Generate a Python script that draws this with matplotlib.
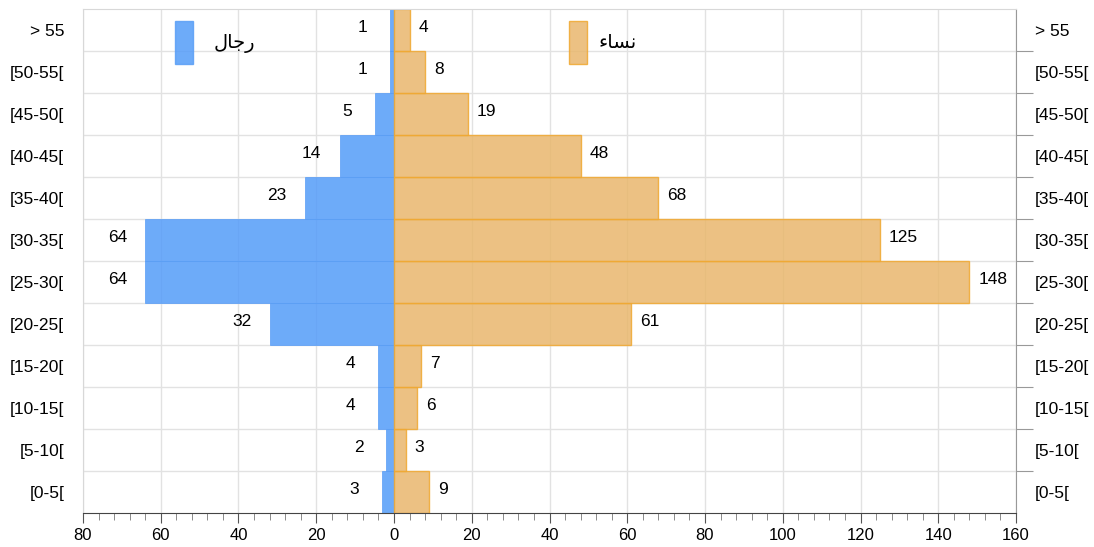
import matplotlib.pyplot as plt
from matplotlib.patches import Patch
from matplotlib.ticker import MultipleLocator, FixedLocator, FuncFormatter

plt.rcParams['font.family'] = ['Liberation Sans', 'DejaVu Sans']

# age groups, bottom to top
groups = ['[0-5[', '[5-10[', '[10-15[', '[15-20[', '[20-25[', '[25-30[',
          '[30-35[', '[35-40[', '[40-45[', '[45-50[', '[50-55[', '> 55']
men = [3, 2, 4, 4, 32, 64, 64, 23, 14, 5, 1, 1]
women = [9, 3, 6, 7, 61, 148, 125, 68, 48, 19, 8, 4]

# legend labels, pre-shaped arabic (visual order) : "رجال" and "نساء"
label_men = '\uFEDD\uFE8E\uFE9F\uFEAD'
label_women = '\uFE80\uFE8E\uFEB4\uFEE7'

blue = '#549cf9'
orange = '#e9b76d'

fig = plt.figure(figsize=(10.94, 5.47), dpi=100)
ax = fig.add_axes([83 / 1094, 34 / 547, 933 / 1094, 504 / 547])

y = list(range(len(groups)))
ax.barh(y, [-m for m in men], height=1.0, color=blue, alpha=0.85,
        edgecolor='#5a9ef5', linewidth=0.6, zorder=2)
ax.barh(y, women, height=1.0, color=orange, alpha=0.85,
        edgecolor='#f0a830', linewidth=1.0, zorder=2)

for yi, m, w in zip(y, men, women):
    ax.annotate(str(m), (-m, yi), xytext=(-20, 2), textcoords='offset points',
                ha='center', va='center', fontsize=12.5)
    ax.annotate(str(w), (w, yi), xytext=(6.5, 2), textcoords='offset points',
                ha='left', va='center', fontsize=12.5)

ax.set_xlim(-80, 160)
ax.set_ylim(-0.5, len(groups) - 0.5)

ax.xaxis.set_major_locator(MultipleLocator(20))
ax.xaxis.set_minor_locator(MultipleLocator(4))
ax.xaxis.set_major_formatter(FuncFormatter(lambda v, p: str(int(abs(v)))))
ax.tick_params(axis='x', which='major', length=7, width=0.8, color='#555555',
               labelsize=12, pad=3.5)
ax.tick_params(axis='x', which='minor', length=5, width=0.6, color='#777777')

ax.set_yticks(y)
ax.set_yticklabels(groups)
ax.yaxis.set_minor_locator(FixedLocator([i + 0.5 for i in y[:-1]]))
ax.tick_params(axis='y', which='major', length=0, labelsize=12.5, pad=13.5,
               labelleft=True, labelright=True)
ax.tick_params(axis='y', which='minor', left=False, right=True, length=12,
               width=0.8, color='#999999')

ax.grid(True, axis='x', which='major', color='#e2e2e2', linewidth=1, zorder=0)
ax.grid(True, axis='y', which='minor', color='#e2e2e2', linewidth=1, zorder=0)
ax.set_axisbelow(True)

ax.spines['left'].set_color('#d8d8d8')
ax.spines['top'].set_color('#d8d8d8')
ax.spines['right'].set_color('#999999')
ax.spines['bottom'].set_color('#444444')

# two separate legend entries
leg1 = ax.legend([Patch(facecolor=blue, alpha=0.85, edgecolor='#5a9ef5')],
                 [label_men], loc='upper left',
                 bbox_to_anchor=(92 / 933, 1 - 12 / 504), frameon=False,
                 fontsize=14, handlelength=0.9, handleheight=3.03,
                 handletextpad=1.1, borderpad=0, borderaxespad=0)
ax.add_artist(leg1)
ax.legend([Patch(facecolor=orange, alpha=0.85, edgecolor='#f0a830')],
          [label_women], loc='upper left',
          bbox_to_anchor=(486 / 933, 1 - 12 / 504), frameon=False,
          fontsize=14, handlelength=0.9, handleheight=3.03,
          handletextpad=0.6, borderpad=0, borderaxespad=0)

fig.savefig('out.png', dpi=100)
